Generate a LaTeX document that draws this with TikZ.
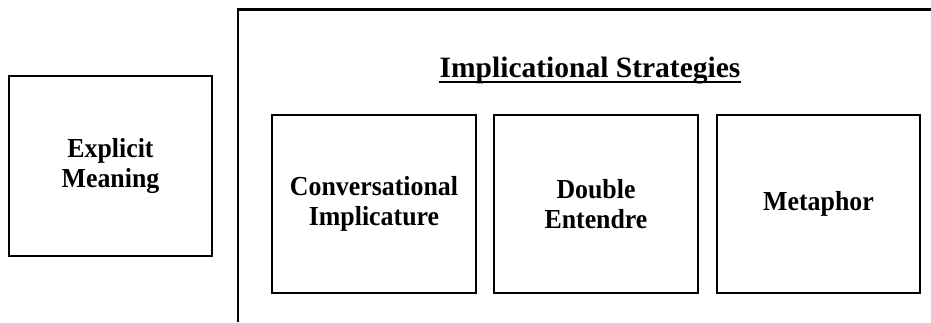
\documentclass[tikz,border=0pt]{standalone}
\usepackage{fontspec}
\setmainfont{Liberation Serif}
\newfontfamily\labfont[FakeStretch=0.94]{Liberation Serif}
\begin{document}
\begin{tikzpicture}[x=1pt,y=-1pt,
  lab/.style={font=\labfont\fontsize{27.5}{30.5}\selectfont\bfseries},
  box/.style={draw, line width=2.5pt, minimum width=#1, align=center, lab, inner sep=0pt},
  box/.default=204pt]
\useasboundingbox (0,0) rectangle (931,322);
\coordinate (btl) at (238,9.5);
\coordinate (btr) at (931,9.5);
\coordinate (bbl) at (238,322);
\draw[line width=2.5pt] (bbl) -- (btl) -- (btr);
\node[box=203pt, minimum height=180pt] (expl) at (110.5,166) {Explicit\\Meaning};
\node[box, minimum height=178pt] (conv) at (374,204) {Conversational\\Implicature};
\node[box, minimum height=178pt] (dbl) at (596,204) {Double\\Entendre};
\node[box=203pt, minimum height=178pt] (meta) at (818.5,204) {Metaphor};
\node[font=\fontsize{29.5}{32}\selectfont\bfseries, inner sep=0pt, anchor=base] (title) at (590,77) {Implicational Strategies};
\draw[line width=2pt] ([yshift=-4.5pt]title.base west) -- ([yshift=-4.5pt]title.base east);
\end{tikzpicture}
\end{document}
